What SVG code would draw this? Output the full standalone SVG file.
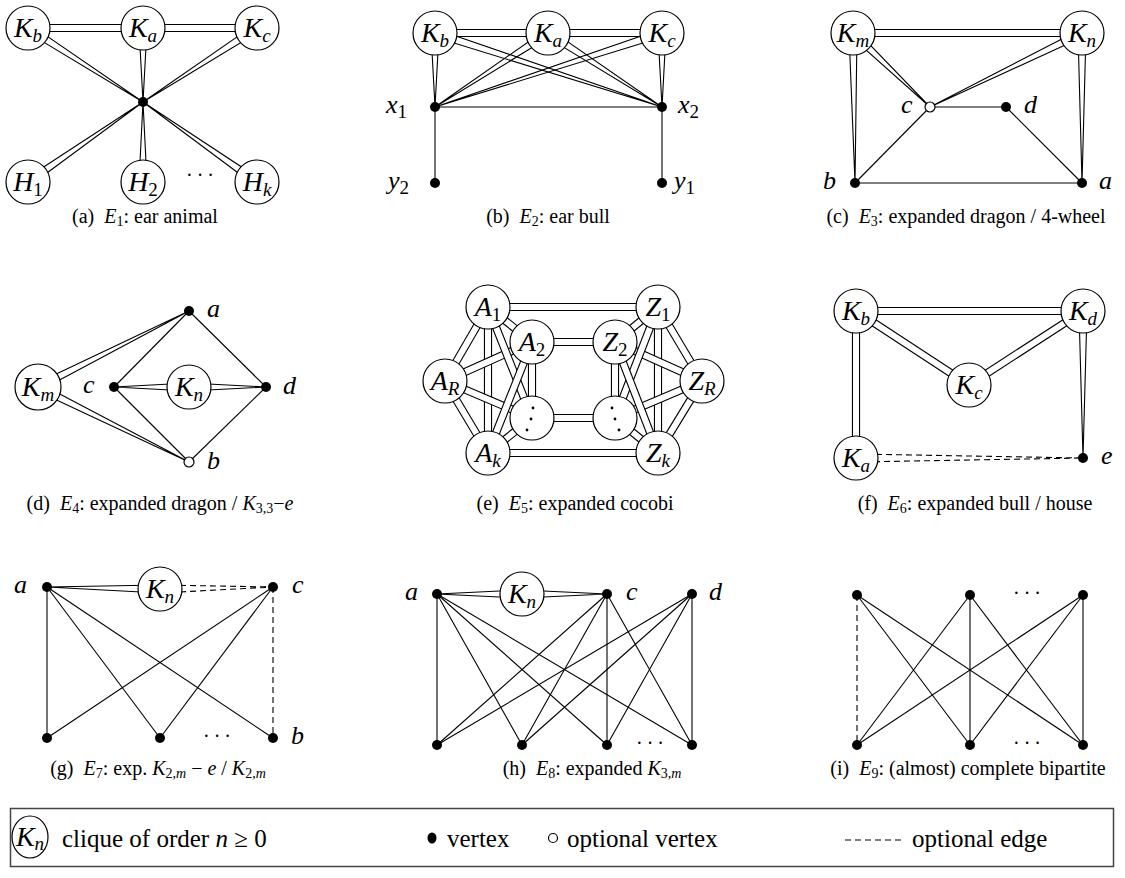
<svg xmlns="http://www.w3.org/2000/svg" width="1125" height="878" viewBox="0 0 1125 878">
<style>
.e{stroke:#000;stroke-width:1.1;fill:none}
.d{stroke:#000;stroke-width:1.1;fill:none;stroke-dasharray:6 4}
.w{stroke:#000;stroke-width:1.1;fill:none}
.wd{stroke:#000;stroke-width:1.1;fill:none;stroke-dasharray:6 4}
.tb{stroke:#000;stroke-width:8.2}
.tw{stroke:#fff;stroke-width:6}
.c{fill:#fff;stroke:#000;stroke-width:1.2}
.v{fill:#000}
.o{fill:#fff;stroke:#000;stroke-width:1.2}
.m{font-family:"Liberation Serif","Times New Roman",serif;font-style:italic;font-size:28px;text-anchor:middle}
.l{font-family:"Liberation Serif","Times New Roman",serif;font-style:italic;font-size:26px}
.s{font-size:19px}
.u{font-style:normal}
.i{font-style:italic}
.cap{font-family:"Liberation Serif","Times New Roman",serif;font-size:20px;text-anchor:middle}
.dots{font-family:"Liberation Serif","Times New Roman",serif;font-size:20px;text-anchor:middle}
.leg{font-family:"Liberation Serif","Times New Roman",serif;font-size:25px}
</style>

<!-- (a) -->
<g id="panel-a">
<g id="a-connectors">
<line class="tb" x1="28" y1="28" x2="143" y2="28"/><line class="tw" x1="28" y1="28" x2="143" y2="28"/>
<line class="tb" x1="143" y1="28" x2="257" y2="28"/><line class="tw" x1="143" y1="28" x2="257" y2="28"/>
<polyline class="w" points="25.8,31.4 143,102 30.2,24.6"/>
<polyline class="w" points="139,28 143,102 147,28"/>
<polyline class="w" points="254.8,24.6 143,102 259.2,31.4"/>
<polyline class="w" points="30.3,185.3 143,102 25.7,178.7"/>
<polyline class="w" points="139,182 143,102 147,182"/>
<polyline class="w" points="259.3,178.7 143,102 254.7,185.3"/>
</g>
<g id="a-Kb"><circle class="c" cx="28" cy="28" r="22"/><text class="m" x="28" y="37">K<tspan class="s" dy="5">b</tspan></text></g>
<g id="a-Ka"><circle class="c" cx="143" cy="28" r="22"/><text class="m" x="143" y="37">K<tspan class="s" dy="5">a</tspan></text></g>
<g id="a-Kc"><circle class="c" cx="257" cy="28" r="22"/><text class="m" x="257" y="37">K<tspan class="s" dy="5">c</tspan></text></g>
<g id="a-v"><circle class="v" cx="143" cy="102" r="5"/></g>
<g id="a-H1"><circle class="c" cx="28" cy="182" r="22"/><text class="m" x="28" y="191">H<tspan class="s u" dy="5">1</tspan></text></g>
<g id="a-H2"><circle class="c" cx="143" cy="182" r="22"/><text class="m" x="143" y="191">H<tspan class="s u" dy="5">2</tspan></text></g>
<g id="a-Hk"><circle class="c" cx="257" cy="182" r="22"/><text class="m" x="257" y="191">H<tspan class="s" dy="5">k</tspan></text></g>
<text class="dots" x="200" y="182" textLength="28" lengthAdjust="spacing">· · ·</text>
<text class="cap" x="145" y="223">(a)&#160;&#160;<tspan class="i">E</tspan><tspan font-size="14" dy="3">1</tspan><tspan dy="-3">: ear animal</tspan></text>
</g>

<!-- (b) -->
<g id="panel-b">
<g id="b-connectors">
<line class="tb" x1="435" y1="33" x2="548" y2="33"/><line class="tw" x1="435" y1="33" x2="548" y2="33"/>
<line class="tb" x1="548" y1="33" x2="662" y2="33"/><line class="tw" x1="548" y1="33" x2="662" y2="33"/>
<polyline class="w" points="431,33 435,107 439,33"/>
<polyline class="w" points="658,33 662,107 666,33"/>
<polyline class="w" points="545.8,29.7 435,107 550.2,36.4"/>
<polyline class="w" points="545.8,36.4 662,107 550.2,29.6"/>
<polyline class="w" points="433.8,36.8 662,107 436.2,29.2"/>
<polyline class="w" points="660.8,29.2 435,107 663.2,36.8"/>
<line class="e" x1="435" y1="107" x2="662" y2="107"/>
<line class="e" x1="435" y1="107" x2="435" y2="183"/>
<line class="e" x1="662" y1="107" x2="662" y2="183"/>
</g>
<g id="b-Kb"><circle class="c" cx="435" cy="33" r="22"/><text class="m" x="435" y="42">K<tspan class="s" dy="5">b</tspan></text></g>
<g id="b-Ka"><circle class="c" cx="548" cy="33" r="22"/><text class="m" x="548" y="42">K<tspan class="s" dy="5">a</tspan></text></g>
<g id="b-Kc"><circle class="c" cx="662" cy="33" r="22"/><text class="m" x="662" y="42">K<tspan class="s" dy="5">c</tspan></text></g>
<g id="b-x1"><circle class="v" cx="435" cy="107" r="5"/><text class="l" x="386" y="113">x<tspan class="s u" dy="5">1</tspan></text></g>
<g id="b-x2"><circle class="v" cx="662" cy="107" r="5"/><text class="l" x="678" y="113">x<tspan class="s u" dy="5">2</tspan></text></g>
<g id="b-y2"><circle class="v" cx="435" cy="183" r="5"/><text class="l" x="388" y="189">y<tspan class="s u" dy="5">2</tspan></text></g>
<g id="b-y1"><circle class="v" cx="662" cy="183" r="5"/><text class="l" x="674" y="189">y<tspan class="s u" dy="5">1</tspan></text></g>
<text class="cap" x="548" y="223">(b)&#160;&#160;<tspan class="i">E</tspan><tspan font-size="14" dy="3">2</tspan><tspan dy="-3">: ear bull</tspan></text>
</g>

<!-- (c) -->
<g id="panel-c">
<g id="c-connectors">
<line class="tb" x1="853" y1="33" x2="1082" y2="33"/><line class="tw" x1="853" y1="33" x2="1082" y2="33"/>
<polyline class="w" points="849,33 855,183 857,33"/>
<polyline class="w" points="1078,33 1082,183 1086,33"/>
<polyline class="w" points="850.2,35.9 930,107 855.8,30.1"/>
<polyline class="w" points="1080.3,29.4 930,107 1083.7,36.6"/>
<line class="e" x1="930" y1="107" x2="1006" y2="107"/>
<line class="e" x1="1006" y1="107" x2="1082" y2="183"/>
<line class="e" x1="930" y1="107" x2="855" y2="183"/>
<line class="e" x1="855" y1="183" x2="1082" y2="183"/>
</g>
<g id="c-Km"><circle class="c" cx="853" cy="33" r="22"/><text class="m" x="853" y="42">K<tspan class="s" dy="5">m</tspan></text></g>
<g id="c-Kn"><circle class="c" cx="1082" cy="33" r="22"/><text class="m" x="1082" y="42">K<tspan class="s" dy="5">n</tspan></text></g>
<g id="c-c"><circle class="o" cx="930" cy="107" r="5"/><text class="l" x="901" y="113">c</text></g>
<g id="c-d"><circle class="v" cx="1006" cy="107" r="5"/><text class="l" x="1024" y="113">d</text></g>
<g id="c-b"><circle class="v" cx="855" cy="183" r="5"/><text class="l" x="823" y="189">b</text></g>
<g id="c-a"><circle class="v" cx="1082" cy="183" r="5"/><text class="l" x="1099" y="189">a</text></g>
<text class="cap" x="966" y="223">(c)&#160;&#160;<tspan class="i">E</tspan><tspan font-size="14" dy="3">3</tspan><tspan dy="-3">: expanded dragon / 4-wheel</tspan></text>
</g>

<!-- (d) -->
<g id="panel-d">
<g id="d-connectors">
<polyline class="w" points="39.8,390.6 189,311 36.2,383.4"/>
<polyline class="w" points="36.2,390.6 189,462 39.8,383.4"/>
<polyline class="w" points="189,383 114,387 189,391"/>
<polyline class="w" points="189,383 266,387 189,391"/>
<line class="e" x1="189" y1="311" x2="114" y2="387"/>
<line class="e" x1="189" y1="311" x2="266" y2="387"/>
<line class="e" x1="114" y1="387" x2="189" y2="462"/>
<line class="e" x1="266" y1="387" x2="189" y2="462"/>
</g>
<g id="d-Km"><circle class="c" cx="38" cy="387" r="23"/><text class="m" x="38" y="396">K<tspan class="s" dy="5">m</tspan></text></g>
<g id="d-Kn"><circle class="c" cx="189" cy="387" r="22"/><text class="m" x="189" y="396">K<tspan class="s" dy="5">n</tspan></text></g>
<g id="d-a"><circle class="v" cx="189" cy="311" r="5"/><text class="l" x="207" y="317">a</text></g>
<g id="d-c"><circle class="v" cx="114" cy="387" r="5"/><text class="l" x="83" y="393">c</text></g>
<g id="d-d"><circle class="v" cx="266" cy="387" r="5"/><text class="l" x="283" y="394">d</text></g>
<g id="d-b"><circle class="o" cx="189" cy="462" r="5"/><text class="l" x="207" y="469">b</text></g>
<text class="cap" x="160" y="510">(d)&#160;&#160;<tspan class="i">E</tspan><tspan font-size="14" dy="3">4</tspan><tspan dy="-3">: expanded dragon / </tspan><tspan class="i">K</tspan><tspan font-size="14" dy="3">3,3</tspan><tspan dy="-3">−</tspan><tspan class="i">e</tspan></text>
</g>

<!-- (e) -->
<g id="panel-e">
<g id="e-connectors">
<line class="tb" x1="488" y1="307" x2="658" y2="307"/><line class="tw" x1="488" y1="307" x2="658" y2="307"/>
<line class="tb" x1="532" y1="342" x2="615" y2="342"/><line class="tw" x1="532" y1="342" x2="615" y2="342"/>
<line class="tb" x1="532" y1="418" x2="615" y2="418"/><line class="tw" x1="532" y1="418" x2="615" y2="418"/>
<line class="tb" x1="488" y1="453" x2="658" y2="453"/><line class="tw" x1="488" y1="453" x2="658" y2="453"/>
<line class="tb" x1="488" y1="307" x2="488" y2="453"/><line class="tw" x1="488" y1="307" x2="488" y2="453"/>
<line class="tb" x1="532" y1="342" x2="532" y2="418"/><line class="tw" x1="532" y1="342" x2="532" y2="418"/>
<line class="tb" x1="488" y1="307" x2="445" y2="381"/><line class="tw" x1="488" y1="307" x2="445" y2="381"/>
<line class="tb" x1="445" y1="381" x2="488" y2="453"/><line class="tw" x1="445" y1="381" x2="488" y2="453"/>
<line class="tb" x1="488" y1="307" x2="532" y2="342"/><line class="tw" x1="488" y1="307" x2="532" y2="342"/>
<line class="tb" x1="532" y1="418" x2="488" y2="453"/><line class="tw" x1="532" y1="418" x2="488" y2="453"/>
<line class="tb" x1="532" y1="342" x2="445" y2="381"/><line class="tw" x1="532" y1="342" x2="445" y2="381"/>
<line class="tb" x1="445" y1="381" x2="532" y2="418"/><line class="tw" x1="445" y1="381" x2="532" y2="418"/>
<line class="tb" x1="488" y1="307" x2="532" y2="418"/><line class="tw" x1="488" y1="307" x2="532" y2="418"/>
<line class="tb" x1="532" y1="342" x2="488" y2="453"/><line class="tw" x1="532" y1="342" x2="488" y2="453"/>
<line class="tb" x1="658" y1="307" x2="658" y2="453"/><line class="tw" x1="658" y1="307" x2="658" y2="453"/>
<line class="tb" x1="615" y1="342" x2="615" y2="418"/><line class="tw" x1="615" y1="342" x2="615" y2="418"/>
<line class="tb" x1="658" y1="307" x2="702" y2="381"/><line class="tw" x1="658" y1="307" x2="702" y2="381"/>
<line class="tb" x1="702" y1="381" x2="658" y2="453"/><line class="tw" x1="702" y1="381" x2="658" y2="453"/>
<line class="tb" x1="658" y1="307" x2="615" y2="342"/><line class="tw" x1="658" y1="307" x2="615" y2="342"/>
<line class="tb" x1="615" y1="418" x2="658" y2="453"/><line class="tw" x1="615" y1="418" x2="658" y2="453"/>
<line class="tb" x1="615" y1="342" x2="702" y2="381"/><line class="tw" x1="615" y1="342" x2="702" y2="381"/>
<line class="tb" x1="702" y1="381" x2="615" y2="418"/><line class="tw" x1="702" y1="381" x2="615" y2="418"/>
<line class="tb" x1="658" y1="307" x2="615" y2="418"/><line class="tw" x1="658" y1="307" x2="615" y2="418"/>
<line class="tb" x1="615" y1="342" x2="658" y2="453"/><line class="tw" x1="615" y1="342" x2="658" y2="453"/>
</g>
<g id="e-A1"><circle class="c" cx="488" cy="307" r="22"/><text class="m" x="488" y="316">A<tspan class="s u" dy="5">1</tspan></text></g>
<g id="e-A2"><circle class="c" cx="532" cy="342" r="22"/><text class="m" x="532" y="351">A<tspan class="s u" dy="5">2</tspan></text></g>
<g id="e-AR"><circle class="c" cx="445" cy="381" r="22"/><text class="m" x="445" y="390">A<tspan class="s" dy="5">R</tspan></text></g>
<g id="e-Ad"><circle class="c" cx="532" cy="418" r="22"/><circle class="v" cx="533" cy="408" r="1.4"/><circle class="v" cx="531" cy="419" r="1.4"/><circle class="v" cx="527" cy="430" r="1.4"/></g>
<g id="e-Ak"><circle class="c" cx="488" cy="453" r="22"/><text class="m" x="488" y="462">A<tspan class="s" dy="5">k</tspan></text></g>
<g id="e-Z1"><circle class="c" cx="658" cy="307" r="22"/><text class="m" x="658" y="316">Z<tspan class="s u" dy="5">1</tspan></text></g>
<g id="e-Z2"><circle class="c" cx="615" cy="342" r="22"/><text class="m" x="615" y="351">Z<tspan class="s u" dy="5">2</tspan></text></g>
<g id="e-ZR"><circle class="c" cx="702" cy="381" r="22"/><text class="m" x="702" y="390">Z<tspan class="s" dy="5">R</tspan></text></g>
<g id="e-Zd"><circle class="c" cx="615" cy="418" r="22"/><circle class="v" cx="612" cy="408" r="1.4"/><circle class="v" cx="615" cy="419" r="1.4"/><circle class="v" cx="619" cy="430" r="1.4"/></g>
<g id="e-Zk"><circle class="c" cx="658" cy="453" r="22"/><text class="m" x="658" y="462">Z<tspan class="s" dy="5">k</tspan></text></g>
<text class="cap" x="575" y="510">(e)&#160;&#160;<tspan class="i">E</tspan><tspan font-size="14" dy="3">5</tspan><tspan dy="-3">: expanded cocobi</tspan></text>
</g>

<!-- (f) -->
<g id="panel-f">
<g id="f-connectors">
<line class="tb" x1="856" y1="311" x2="1083" y2="311"/><line class="tw" x1="856" y1="311" x2="1083" y2="311"/>
<line class="tb" x1="856" y1="311" x2="969" y2="385"/><line class="tw" x1="856" y1="311" x2="969" y2="385"/>
<line class="tb" x1="1083" y1="311" x2="969" y2="385"/><line class="tw" x1="1083" y1="311" x2="969" y2="385"/>
<line class="tb" x1="856" y1="311" x2="856" y2="458"/><line class="tw" x1="856" y1="311" x2="856" y2="458"/>
<polyline class="w" points="1079,311 1083,458 1087,311"/>
<polyline class="wd" points="856,454 1083,458 856,462"/>
</g>
<g id="f-Kb"><circle class="c" cx="856" cy="311" r="22"/><text class="m" x="856" y="320">K<tspan class="s" dy="5">b</tspan></text></g>
<g id="f-Kd"><circle class="c" cx="1083" cy="311" r="22"/><text class="m" x="1083" y="320">K<tspan class="s" dy="5">d</tspan></text></g>
<g id="f-Kc"><circle class="c" cx="969" cy="385" r="22"/><text class="m" x="969" y="394">K<tspan class="s" dy="5">c</tspan></text></g>
<g id="f-Ka"><circle class="c" cx="856" cy="458" r="22"/><text class="m" x="856" y="467">K<tspan class="s" dy="5">a</tspan></text></g>
<g id="f-e"><circle class="v" cx="1083" cy="458" r="5"/><text class="l" x="1101" y="464">e</text></g>
<text class="cap" x="975" y="510">(f)&#160;&#160;<tspan class="i">E</tspan><tspan font-size="14" dy="3">6</tspan><tspan dy="-3">: expanded bull / house</tspan></text>
</g>

<!-- (g) -->
<g id="panel-g">
<g id="g-connectors">
<polyline class="w" points="160,585 47,587 160,593"/>
<polyline class="wd" points="160,585 273,587 160,593"/>
<line class="d" x1="273" y1="587" x2="273" y2="738"/>
<line class="e" x1="47" y1="587" x2="47" y2="738"/>
<line class="e" x1="47" y1="587" x2="160" y2="738"/>
<line class="e" x1="47" y1="587" x2="273" y2="738"/>
<line class="e" x1="273" y1="587" x2="47" y2="738"/>
<line class="e" x1="273" y1="587" x2="160" y2="738"/>
</g>
<g id="g-Kn"><circle class="c" cx="160" cy="589" r="22"/><text class="m" x="160" y="598">K<tspan class="s" dy="5">n</tspan></text></g>
<g id="g-a"><circle class="v" cx="47" cy="587" r="5"/><text class="l" x="14" y="593">a</text></g>
<g id="g-c"><circle class="v" cx="273" cy="587" r="5"/><text class="l" x="292" y="593">c</text></g>
<g id="g-B1"><circle class="v" cx="47" cy="738" r="5"/></g>
<g id="g-B2"><circle class="v" cx="160" cy="738" r="5"/></g>
<g id="g-b"><circle class="v" cx="273" cy="738" r="5"/><text class="l" x="291" y="744">b</text></g>
<text class="dots" x="217" y="743" textLength="28" lengthAdjust="spacing">· · ·</text>
<text class="cap" x="158" y="775">(g)&#160;&#160;<tspan class="i">E</tspan><tspan font-size="14" dy="3">7</tspan><tspan dy="-3">: exp. </tspan><tspan class="i">K</tspan><tspan font-size="14" dy="3">2,</tspan><tspan font-size="14" class="i">m</tspan><tspan dy="-3"> − </tspan><tspan class="i">e</tspan> / <tspan class="i">K</tspan><tspan font-size="14" dy="3">2,</tspan><tspan font-size="14" class="i">m</tspan></text>
</g>

<!-- (h) -->
<g id="panel-h">
<g id="h-connectors">
<polyline class="w" points="522,590 437,594 522,598"/>
<polyline class="w" points="522,590 607,594 522,598"/>
<line class="e" x1="437" y1="594" x2="437" y2="745"/>
<line class="e" x1="437" y1="594" x2="522" y2="745"/>
<line class="e" x1="437" y1="594" x2="607" y2="745"/>
<line class="e" x1="437" y1="594" x2="692" y2="745"/>
<line class="e" x1="607" y1="594" x2="437" y2="745"/>
<line class="e" x1="607" y1="594" x2="522" y2="745"/>
<line class="e" x1="607" y1="594" x2="607" y2="745"/>
<line class="e" x1="607" y1="594" x2="692" y2="745"/>
<line class="e" x1="692" y1="594" x2="437" y2="745"/>
<line class="e" x1="692" y1="594" x2="522" y2="745"/>
<line class="e" x1="692" y1="594" x2="607" y2="745"/>
<line class="e" x1="692" y1="594" x2="692" y2="745"/>
</g>
<g id="h-Kn"><circle class="c" cx="522" cy="594" r="22"/><text class="m" x="522" y="603">K<tspan class="s" dy="5">n</tspan></text></g>
<g id="h-a"><circle class="v" cx="437" cy="594" r="5"/><text class="l" x="405" y="600">a</text></g>
<g id="h-c"><circle class="v" cx="607" cy="594" r="5"/><text class="l" x="626" y="600">c</text></g>
<g id="h-d"><circle class="v" cx="692" cy="594" r="5"/><text class="l" x="709" y="600">d</text></g>
<g id="h-B1"><circle class="v" cx="437" cy="745" r="5"/></g>
<g id="h-B2"><circle class="v" cx="522" cy="745" r="5"/></g>
<g id="h-B3"><circle class="v" cx="607" cy="745" r="5"/></g>
<g id="h-B4"><circle class="v" cx="692" cy="745" r="5"/></g>
<text class="dots" x="650" y="750" textLength="28" lengthAdjust="spacing">· · ·</text>
<text class="cap" x="592" y="775">(h)&#160;&#160;<tspan class="i">E</tspan><tspan font-size="14" dy="3">8</tspan><tspan dy="-3">: expanded </tspan><tspan class="i">K</tspan><tspan font-size="14" dy="3">3,</tspan><tspan font-size="14" class="i">m</tspan></text>
</g>

<!-- (i) -->
<g id="panel-i">
<g id="i-connectors">
<line class="d" x1="857" y1="595" x2="857" y2="745"/>
<line class="e" x1="857" y1="595" x2="970" y2="745"/>
<line class="e" x1="857" y1="595" x2="1083" y2="745"/>
<line class="e" x1="970" y1="595" x2="857" y2="745"/>
<line class="e" x1="970" y1="595" x2="970" y2="745"/>
<line class="e" x1="970" y1="595" x2="1083" y2="745"/>
<line class="e" x1="1083" y1="595" x2="857" y2="745"/>
<line class="e" x1="1083" y1="595" x2="970" y2="745"/>
<line class="e" x1="1083" y1="595" x2="1083" y2="745"/>
</g>
<g id="i-T1"><circle class="v" cx="857" cy="595" r="5"/></g>
<g id="i-T2"><circle class="v" cx="970" cy="595" r="5"/></g>
<g id="i-T3"><circle class="v" cx="1083" cy="595" r="5"/></g>
<g id="i-B1"><circle class="v" cx="857" cy="745" r="5"/></g>
<g id="i-B2"><circle class="v" cx="970" cy="745" r="5"/></g>
<g id="i-B3"><circle class="v" cx="1083" cy="745" r="5"/></g>
<text class="dots" x="1027" y="600" textLength="28" lengthAdjust="spacing">· · ·</text>
<text class="dots" x="1027" y="750" textLength="28" lengthAdjust="spacing">· · ·</text>
<text class="cap" x="968" y="775">(i)&#160;&#160;<tspan class="i">E</tspan><tspan font-size="14" dy="3">9</tspan><tspan dy="-3">: (almost) complete bipartite</tspan></text>
</g>

<!-- legend -->
<g id="legend">
<rect x="10.5" y="808.5" width="1103" height="58" fill="none" stroke="#444" stroke-width="1.5"/>
<g id="legend-clique"><ellipse class="c" cx="30" cy="837" rx="18" ry="21"/><text class="m" x="30" y="846" font-size="24">K<tspan class="s" dy="4" font-size="16">n</tspan></text></g>
<text class="leg" x="62" y="847">clique of order <tspan class="i">n</tspan> ≥ 0</text>
<g id="legend-vertex"><ellipse class="v" cx="432" cy="838" rx="4.5" ry="5.5"/></g>
<text class="leg" x="447" y="847">vertex</text>
<g id="legend-optional-vertex"><circle class="o" cx="553" cy="838" r="4.5"/></g>
<text class="leg" x="567" y="847">optional vertex</text>
<line class="d" x1="845" y1="840" x2="905" y2="840" stroke-dasharray="6 6"/>
<text class="leg" x="912" y="847">optional edge</text>
</g>
</svg>
